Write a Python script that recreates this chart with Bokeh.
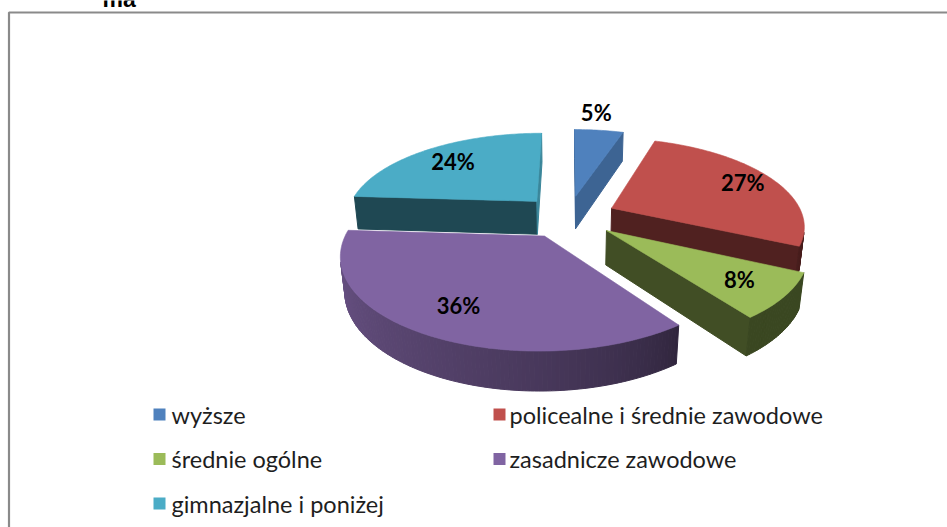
import math
from bokeh.plotting import figure
from bokeh.models import Range1d
from bokeh.core.properties import value
from bokeh.embed import file_html
from bokeh.resources import INLINE

# ---- data ----
categories = ["wyższe", "policealne i średnie zawodowe", "średnie ogólne",
              "zasadnicze zawodowe", "gimnazjalne i poniżej"]
shares = [5, 27, 8, 36, 24]
labels = ["5%", "27%", "8%", "36%", "24%"]
colors = ["#4F81BD", "#C0504D", "#9BBB59", "#8064A2", "#4BACC6"]

# label placement style (radius along slice mid-angle, small pixel nudge)
label_radius = [1.33, 0.82, 0.77, 0.75, 0.75]
label_nudge = [-9, 0, 0, 0, 0]

# ---- 3D pie geometry (style) ----
CX, CY = 568.0, 216.0
F = 932.0
DIST = 4.87
PHI = math.radians(26.6)
H = 0.2
EXPLODE = 0.25
COSP, SINP = math.cos(PHI), math.sin(PHI)
CAM = (0.0, DIST * SINP, -DIST * COSP)  # (X, Yh, Z)


def proj(X, Z, Yh=0.0):
    depth = DIST + Z * COSP - Yh * SINP
    up = Yh * COSP + Z * SINP
    return CX + F * X / depth, CY - F * up / depth


def shade(hx, f):
    r, g, b = int(hx[1:3], 16), int(hx[3:5], 16), int(hx[5:7], 16)
    return "#%02x%02x%02x" % (int(r * f), int(g * f), int(b * f))


def rim_factor(t):
    t = t % 360
    if 144 <= t <= 270:
        return 0.37 + 0.47 * ((t - 144) / 126.0) ** 0.7
    if t < 144:
        return 0.38
    return 0.84


def cut_factor(a):
    a = a % 360
    if 60 < a < 150:
        return 0.78
    if a >= 250 or a <= 60:
        return 0.84
    return 0.42


p = figure(width=947, height=527, x_range=Range1d(0, 947), y_range=Range1d(527, 0),
           output_backend="svg", toolbar_location=None, min_border=0,
           x_axis_location=None, y_axis_location=None)
p.grid.visible = False
p.outline_line_color = None
p.background_fill_color = "white"
p.border_fill_color = "white"

# frame border and cut title fragment
p.line([8.5, 8.5, 960], [540, 12, 12], line_color="#8a8a8a", line_width=2.2)
p.text([102], [-1.5], text=["ma"], text_font=value("Liberation Sans"), text_font_style="bold",
       text_font_size="23px", text_baseline="alphabetic", text_color="#000000")

total = float(sum(shares))
slices = []
acc = 0.0
for i, s in enumerate(shares):
    a0 = acc / total * 360.0
    a1 = (acc + s) / total * 360.0
    acc += s
    mid = (a0 + a1) / 2
    slices.append((i, a0, a1, mid))

order = sorted(slices, key=lambda t: -math.cos(math.radians(t[3])))

for (i, a0, a1, mid) in order:
    m = math.radians(mid)
    ox, oz = EXPLODE * math.sin(m), EXPLODE * math.cos(m)
    col = colors[i]
    sx, sy, sc = [], [], []
    # cut faces
    for ang, nang in ((a0, a0 - 90), (a1, a1 + 90)):
        nr = math.radians(nang)
        nx, nz = math.sin(nr), math.cos(nr)
        if (CAM[0] - ox) * nx + (CAM[2] - oz) * nz > 0:
            ar = math.radians(ang)
            X1, Z1 = ox + math.sin(ar), oz + math.cos(ar)
            pts = [proj(ox, oz, 0), proj(X1, Z1, 0), proj(X1, Z1, -H), proj(ox, oz, -H)]
            sx.append([q[0] for q in pts]); sy.append([q[1] for q in pts])
            sc.append(shade(col, cut_factor(nang)))
    # rim
    n = max(2, int((a1 - a0) / 1.0))
    for j in range(n):
        t0 = a0 + (a1 - a0) * j / n
        t1 = a0 + (a1 - a0) * (j + 1) / n
        tm = math.radians((t0 + t1) / 2)
        Xm, Zm = ox + math.sin(tm), oz + math.cos(tm)
        if (CAM[0] - Xm) * math.sin(tm) + (CAM[2] - Zm) * math.cos(tm) <= 0:
            continue
        r0, r1 = math.radians(t0), math.radians(t1)
        P0 = (ox + math.sin(r0), oz + math.cos(r0))
        P1 = (ox + math.sin(r1), oz + math.cos(r1))
        pts = [proj(P0[0], P0[1], 0), proj(P1[0], P1[1], 0),
               proj(P1[0], P1[1], -H), proj(P0[0], P0[1], -H)]
        sx.append([q[0] for q in pts]); sy.append([q[1] for q in pts])
        sc.append(shade(col, rim_factor((t0 + t1) / 2)))
    if sx:
        p.patches(sx, sy, fill_color=sc, line_color=sc, line_width=1)
    # top face
    tx, ty = [], []
    q = proj(ox, oz, 0)
    tx.append(q[0]); ty.append(q[1])
    n = max(4, int((a1 - a0) / 1.0))
    for j in range(n + 1):
        t = math.radians(a0 + (a1 - a0) * j / n)
        q = proj(ox + math.sin(t), oz + math.cos(t), 0)
        tx.append(q[0]); ty.append(q[1])
    p.patch(tx, ty, fill_color=col, line_color=col, line_width=0.6)

# data labels
lx, ly = [], []
for (i, a0, a1, mid) in slices:
    m = math.radians(mid)
    r = label_radius[i]
    X = EXPLODE * math.sin(m) + r * math.sin(m)
    Z = EXPLODE * math.cos(m) + r * math.cos(m)
    q = proj(X, Z, 0)
    lx.append(q[0] + label_nudge[i]); ly.append(q[1])
p.text(lx, ly, text=labels, text_font=value("Lato"), text_font_style="bold",
       text_font_size="22px", text_align="center", text_baseline="middle",
       text_color="#000000")

# legend
gx, gy, tx_, ty_ = [], [], [], []
for i, c in enumerate(categories):
    col_i, row_i = i % 2, i // 2
    gx.append(159 + col_i * 340)
    gy.append(414 + row_i * 44.5)
    tx_.append(171 + col_i * 338)
    ty_.append(414 + row_i * 44.5)
p.rect(gx, gy, width=12, height=12, width_units="screen", height_units="screen",
       fill_color=colors, line_color=None)
p.text(tx_, ty_, text=categories, text_font=value("Lato"), text_font_size="23.5px",
       text_baseline="middle", text_color="#1e1e1e")

open("out.html", "w").write(file_html(p, INLINE))
